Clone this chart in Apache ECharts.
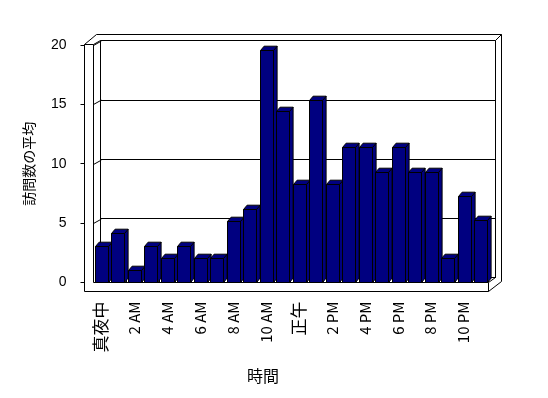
<!DOCTYPE html>
<html><head><meta charset="utf-8">
<script src="https://cdn.jsdelivr.net/npm/echarts@6/dist/echarts.min.js"></script>
<style>html,body{margin:0;padding:0;background:#fff}#c{width:548px;height:398px}</style>
</head><body><div id="c"></div>
<script>
// ---- data ----
const hours = ['真夜中','1 AM','2 AM','3 AM','4 AM','5 AM','6 AM','7 AM','8 AM','9 AM','10 AM','11 AM',
               '正午','1 PM','2 PM','3 PM','4 PM','5 PM','6 PM','7 PM','8 PM','9 PM','10 PM','11 PM'];
const visits = [3, 4.17, 1, 3, 2, 3, 2, 2, 5.17, 6.17, 19.6, 14.45, 8.3, 15.4, 8.3, 11.4, 11.4, 9.3, 11.4, 9.3, 9.3, 2, 7.3, 5.2];
const yTickValues = [5, 10, 15, 20];
const yMin = 0, yMax = 20, yStep = 5;
const xTitle = '時間';
const yTitle = '訪問数の平均';

// ---- layout ----
const W = 548, H = 398;
const FRONT = {left: 92.8, right: W - 488.5, top: 45.3, bottom: H - 282};
const BACK = {left: 100.7, right: W - 495.3, top: 40.7, bottom: H - 277.6};
const DX = 3.6, DY = -4.3;      // bar depth
const WX = 7.9, WY = -4.4;      // wall depth
const BAR_FILL = '#000080';
const LINE = '#000';

const chart = echarts.init(document.getElementById('c'), null, {renderer: 'canvas'});

function L(x1, y1, x2, y2, z) {
  return {type: 'line', z: z || 1, silent: true,
    shape: {x1: x1, y1: y1, x2: x2, y2: y2}, style: {stroke: LINE, lineWidth: 1}};
}
const frame = [
  {type: 'rect', z: 0, silent: true, shape: {x: 84.5, y: 282, width: 404, height: 9.5}, style: {fill: '#fff'}},
  L(84.5, 44.5, 84.5, 291.5),
  L(93.5, 44.5, 93.5, 282.5),
  L(84.5, 44.5, 93.5, 44.5),
  L(84.5, 44.5, 96.5, 34.5),
  L(93.5, 44.5, 100.5, 40.5),
  L(96.5, 34.5, 501.5, 34.5),
  L(100.5, 40.5, 100.5, 278),
  L(100.5, 40.5, 495.5, 40.5),
  L(495.5, 40.5, 495.5, 278),
  L(495.5, 40.5, 501.5, 34.5),
  L(501.5, 34.5, 501.5, 281.5),
  L(84.5, 291.5, 488.5, 291.5),
  L(93.5, 282.5, 488.5, 282.5),
  L(488.5, 282.5, 488.5, 291.5),
  L(488.5, 291.5, 501.5, 281.5),
  L(488.5, 282.5, 495.5, 277.5)
];

function renderBar(params, api) {
  const i = api.value(0), v = api.value(1);
  const base = api.coord([i, 0]);
  const top = api.coord([i, v]);
  const sw = api.size([1, 0])[0];
  const x0 = base[0] - sw / 2;
  const l = Math.round(x0 + 2.2) + 0.5;
  const r = l + 13;
  const yb = Math.round(base[1]) + 0.5;
  const yt = Math.round(top[1]) + 0.5;
  const st = {fill: BAR_FILL, stroke: LINE, lineWidth: 1};
  return {type: 'group', children: [
    {type: 'polygon', shape: {points: [[r, yt], [r + DX, yt + DY], [r + DX, yb + DY], [r, yb]]}, style: st},
    {type: 'polygon', shape: {points: [[l, yt], [r, yt], [r + DX, yt + DY], [l + DX, yt + DY]]}, style: st},
    {type: 'rect', shape: {x: l, y: yt, width: r - l, height: yb - yt}, style: st}
  ]};
}
function renderConnector(params, api) {
  const p = api.coord([0, api.value(1)]);
  const cs = params.coordSys;
  const x = cs.x + 0.7, y = Math.round(p[1]) + 0.5;
  return {type: 'line', shape: {x1: x, y1: y, x2: x + WX, y2: y + WY}, style: {stroke: LINE, lineWidth: 1}};
}

const isCJK = s => /[^\x00-\x7F]/.test(s);

chart.setOption({
  animation: false,
  backgroundColor: '#fff',
  title: {text: xTitle, left: 242, top: 363,
    textStyle: {fontSize: 16, fontWeight: 'normal', color: '#000', fontFamily: 'Noto Sans CJK JP'}},
  graphic: frame,
  grid: [
    Object.assign({containLabel: false}, FRONT),
    Object.assign({containLabel: false}, BACK)
  ],
  xAxis: [
    {type: 'category', gridIndex: 0, data: hours, offset: 9.5,
      boundaryGap: true,
      axisLine: {show: false},
      axisTick: {show: true, inside: true, length: 9.5, interval: 0, lineStyle: {color: LINE}},
      axisLabel: {interval: 1, rotate: 90, margin: 10, color: '#000', fontSize: 15,
        fontFamily: 'Noto Sans CJK JP',
        formatter: v => isCJK(v) ? '{c|' + v + '}' : v,
        rich: {c: {fontSize: 17, fontFamily: 'Noto Sans CJK JP', color: '#000'}}},
      splitLine: {show: false}},
    {type: 'category', gridIndex: 1, data: hours, show: false}
  ],
  yAxis: [
    {type: 'value', gridIndex: 0, min: yMin, max: yMax, interval: yStep, offset: 8.3,
      axisLine: {show: false},
      axisTick: {show: true, length: 4, lineStyle: {color: LINE}},
      axisLabel: {color: '#000', fontSize: 14, margin: 18, fontFamily: 'Liberation Sans'},
      splitLine: {show: false},
      name: yTitle, nameLocation: 'middle', nameGap: 49,
      nameTextStyle: {fontSize: 14, color: '#000', fontFamily: 'Noto Sans CJK JP'}},
    {type: 'value', gridIndex: 1, min: yMin, max: yMax, interval: yStep,
      axisLine: {show: false}, axisTick: {show: false}, axisLabel: {show: false},
      splitLine: {show: true, lineStyle: {color: LINE, width: 1}}}
  ],
  series: [
    {type: 'custom', xAxisIndex: 0, yAxisIndex: 0, z: 1, silent: true,
      renderItem: renderConnector,
      data: yTickValues.map(v => [0, v])},
    {type: 'custom', xAxisIndex: 0, yAxisIndex: 0, z: 3, silent: true,
      renderItem: renderBar,
      data: visits.map((v, i) => [i, v])}
  ]
});
</script>
</body></html>
